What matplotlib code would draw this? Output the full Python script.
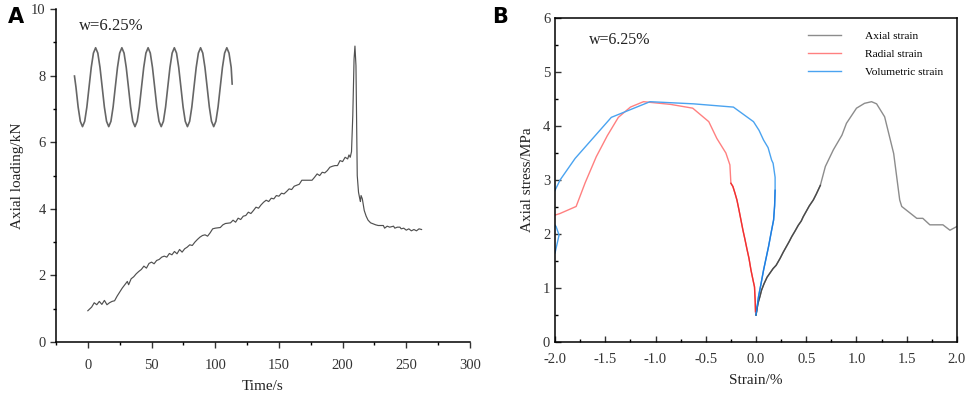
import matplotlib.pyplot as plt
from matplotlib.ticker import MultipleLocator, FormatStrFormatter

plt.rcParams["font.family"] = ["Liberation Serif", "DejaVu Serif"]
plt.rcParams["axes.unicode_minus"] = False

# ---- 面板A：轴向荷载-时间 ----
t_load = [0, 3, 5, 7, 9, 11, 13, 15, 17, 19, 21, 23, 25, 27, 29, 31, 32, 34, 36, 38,
          40, 42, 44, 46, 48, 50, 52, 54, 56, 58, 60, 62, 64, 66, 68, 70, 72, 74, 76, 78,
          80, 82, 84, 86, 88, 90, 92, 94, 96, 98, 100, 104, 106, 108, 112, 114, 116, 118, 120, 122,
          124, 126, 128, 130, 132, 134, 136, 138, 140, 142, 144, 146, 148, 150, 152, 154, 156, 158, 160, 162,
          164, 166, 168, 172, 176, 178, 180, 182, 184, 186, 188, 190, 192, 194, 196, 198, 200, 202, 204, 205,
          206, 207, 208, 209, 209.7, 210.5, 211, 211.5, 212.5, 213.5, 214, 214.5, 215.5, 217, 218.5, 220, 222, 224, 226, 228,
          232, 233, 235, 237, 240, 241, 243, 245, 246, 248, 250, 252, 254, 256, 258, 260, 262]
load = [0.94, 1.05, 1.18, 1.12, 1.22, 1.13, 1.25, 1.12, 1.18, 1.22, 1.24, 1.38, 1.50, 1.62, 1.72, 1.82, 1.72, 1.90, 1.96, 2.05,
        2.12, 2.18, 2.28, 2.22, 2.36, 2.40, 2.35, 2.45, 2.48, 2.55, 2.58, 2.55, 2.66, 2.62, 2.72, 2.65, 2.78, 2.70, 2.80, 2.85,
        2.92, 2.90, 3.00, 3.08, 3.15, 3.20, 3.22, 3.18, 3.28, 3.40, 3.42, 3.44, 3.52, 3.56, 3.58, 3.66, 3.60, 3.72, 3.68, 3.78,
        3.80, 3.90, 3.86, 3.95, 4.05, 4.02, 4.12, 4.20, 4.26, 4.22, 4.32, 4.30, 4.40, 4.38, 4.47, 4.45, 4.52, 4.60, 4.58, 4.68,
        4.71, 4.74, 4.86, 4.86, 4.86, 4.95, 5.05, 5.00, 5.10, 5.08, 5.15, 5.25, 5.28, 5.30, 5.30, 5.45, 5.42, 5.55, 5.50, 5.62,
        5.55, 5.72, 6.80, 8.50, 8.89, 8.30, 6.50, 5.00, 4.50, 4.30, 4.22, 4.40, 4.30, 3.95, 3.78, 3.66, 3.58, 3.55, 3.52, 3.50,
        3.50, 3.42, 3.48, 3.45, 3.48, 3.42, 3.45, 3.45, 3.40, 3.42, 3.36, 3.40, 3.34, 3.38, 3.34, 3.40, 3.38]

# 左上角循环荷载示意（正弦波形，读图取点）
t_wave = [-10.5, -9.35, -7.63, -5.92, -4.20, -2.48, -0.77, 0.95, 2.67, 4.38, 6.10, 7.82, 9.53,
          11.25, 12.97, 14.68, 16.40, 18.12, 19.83, 21.55, 23.27, 24.98, 26.70, 28.42, 30.13,
          31.85, 33.57, 35.28, 37.00, 38.72, 40.43, 42.15, 43.87, 45.58, 47.30, 49.02, 50.73,
          52.45, 54.17, 55.88, 57.60, 59.32, 61.03, 62.75, 64.47, 66.18, 67.90, 69.62, 71.33,
          73.05, 74.77, 76.48, 78.20, 79.92, 81.63, 83.35, 85.07, 86.78, 88.50, 90.22, 91.93,
          93.65, 95.37, 97.08, 98.80, 100.52, 102.23, 103.95, 105.67, 107.38, 109.10, 110.82, 112.53, 113.3]
y_wave = [7.99, 7.66, 7.06, 6.63, 6.47, 6.63, 7.06, 7.66, 8.25, 8.68, 8.84, 8.68, 8.25,
          7.66, 7.06, 6.63, 6.47, 6.63, 7.06, 7.66, 8.25, 8.68, 8.84, 8.68, 8.25,
          7.66, 7.06, 6.63, 6.47, 6.63, 7.06, 7.66, 8.25, 8.68, 8.84, 8.68, 8.25,
          7.66, 7.06, 6.63, 6.47, 6.63, 7.06, 7.66, 8.25, 8.68, 8.84, 8.68, 8.25,
          7.66, 7.06, 6.63, 6.47, 6.63, 7.06, 7.66, 8.25, 8.68, 8.84, 8.68, 8.25,
          7.66, 7.06, 6.63, 6.47, 6.63, 7.06, 7.66, 8.25, 8.68, 8.84, 8.68, 8.25, 7.75]

# ---- 面板B：应力-应变 ----
axial_x = [0.0, 0.02, 0.04, 0.055, 0.08, 0.11, 0.14, 0.17, 0.20, 0.24, 0.27, 0.30, 0.33, 0.355, 0.39,
           0.42, 0.45, 0.47, 0.50, 0.53, 0.57, 0.60, 0.64,
           0.69, 0.77, 0.855, 0.90, 1.00, 1.08, 1.15, 1.20, 1.28, 1.37, 1.43, 1.45, 1.60, 1.66,
           1.73, 1.86, 1.93, 2.00, 2.05]
axial_y = [0.50, 0.72, 0.85, 0.96, 1.08, 1.20, 1.28, 1.36, 1.42, 1.55, 1.66, 1.76, 1.86, 1.95, 2.06,
           2.16, 2.24, 2.32, 2.42, 2.52, 2.63, 2.74, 2.90,
           3.25, 3.56, 3.83, 4.05, 4.33, 4.42, 4.45, 4.41, 4.17, 3.49, 2.63, 2.51, 2.29, 2.29,
           2.17, 2.17, 2.07, 2.14, 2.18]
axial_dense = 23

radial_x = [-0.005, -0.008, -0.015, -0.03, -0.05, -0.07, -0.09, -0.11, -0.13, -0.15, -0.17, -0.19,
            -0.21, -0.23, -0.25,
            -0.26, -0.30, -0.39, -0.47, -0.63, -0.85, -1.12, -1.25, -1.37, -1.48, -1.59, -1.70,
            -1.79, -1.95, -2.00, -2.20]
radial_y = [0.56, 0.75, 1.02, 1.15, 1.33, 1.55, 1.72, 1.90, 2.07, 2.26, 2.45, 2.63, 2.76, 2.88, 2.94,
            3.28, 3.50, 3.77, 4.08, 4.33, 4.40, 4.45, 4.35, 4.16, 3.82, 3.43, 2.95,
            2.51, 2.38, 2.35, 2.20]
radial_dense = 15

vol_x = [0.0, 0.025, 0.05, 0.075, 0.10, 0.125, 0.15, 0.175, 0.185, 0.19,
         0.19, 0.17, 0.155, 0.12, 0.075, 0.03, -0.025, -0.225, -0.62, -1.055, -1.44, -1.80,
         -1.95, -2.00, -2.10, -2.04, -1.99, -1.96, -2.00, -2.10]
vol_y = [0.50, 0.84, 1.08, 1.33, 1.55, 1.77, 2.02, 2.26, 2.52, 2.81,
         3.05, 3.31, 3.37, 3.60, 3.74, 3.92, 4.08, 4.35, 4.41, 4.45, 4.16, 3.40,
         3.00, 2.81, 2.45, 2.25, 2.14, 1.98, 1.65, 1.40]
vol_dense = 10

fig = plt.figure(figsize=(9.69, 3.97), dpi=100)

# 图A
ax1 = fig.add_axes([0.0578, 0.1385, 0.4272, 0.8385])
ax1.plot(t_load, load, c="#505050", lw=0.85)
ax1.plot(t_wave, y_wave, c="#666666", lw=1.2)
ax1.set_xlim(-25, 300)
ax1.set_ylim(0, 10)
ax1.spines["top"].set_visible(False)
ax1.spines["right"].set_visible(False)
ax1.xaxis.set_major_locator(MultipleLocator(50))
ax1.xaxis.set_minor_locator(MultipleLocator(25))
ax1.yaxis.set_major_locator(MultipleLocator(2))
ax1.yaxis.set_minor_locator(MultipleLocator(1))
ax1.tick_params(which="major", direction="out", length=4, width=1, labelsize=10.5, colors="#333333")
ax1.tick_params(axis="x", which="major", pad=8)
ax1.tick_params(which="minor", direction="out", length=2.5, width=1)
ax1.set_xlabel("Time/s", fontsize=11, color="#222222", labelpad=6)
ax1.set_ylabel("Axial loading/kN", fontsize=11, color="#222222", labelpad=5)
ax1.text(-7, 9.5, "w=6.25%", fontsize=12, color="#222222", va="center")
for s in ax1.spines.values():
    s.set_linewidth(1.1)

# 图B
ax2 = fig.add_axes([0.5728, 0.1385, 0.4148, 0.8162])
ax2.plot(axial_x, axial_y, c="#8c8c8c", lw=1.0, label="Axial strain")
ax2.plot(radial_x, radial_y, c="#ff8080", lw=1.0, label="Radial strain")
ax2.plot(vol_x, vol_y, c="#4aa3f0", lw=1.0, label="Volumetric strain")
# 数据点密集段颜色更深
ax2.plot(axial_x[:axial_dense], axial_y[:axial_dense], c="#4a4a4a", lw=1.0)
ax2.plot(radial_x[:radial_dense], radial_y[:radial_dense], c="#f03030", lw=1.0)
ax2.plot(vol_x[:vol_dense], vol_y[:vol_dense], c="#1f7de0", lw=1.0)
ax2.set_xlim(-2, 2)
ax2.set_ylim(0, 6)
ax2.xaxis.set_major_locator(MultipleLocator(0.5))
ax2.xaxis.set_minor_locator(MultipleLocator(0.25))
ax2.yaxis.set_major_locator(MultipleLocator(1))
ax2.yaxis.set_minor_locator(MultipleLocator(0.5))
ax2.xaxis.set_major_formatter(FormatStrFormatter("%.1f"))
ax2.tick_params(which="major", direction="in", length=4, width=1, labelsize=10.5, colors="#333333")
ax2.tick_params(axis="x", which="major", pad=8)
ax2.tick_params(which="minor", direction="in", length=2.5, width=1)
ax2.set_xlabel("Strain/%", fontsize=11, color="#222222", labelpad=6)
ax2.set_ylabel("Axial stress/MPa", fontsize=11, color="#222222", labelpad=6)
ax2.text(-1.66, 5.6, "w=6.25%", fontsize=11.5, color="#222222", va="center")
for s in ax2.spines.values():
    s.set_linewidth(1.1)
ax2.legend(loc="upper right", bbox_to_anchor=(0.99, 0.99), frameon=False, fontsize=8.2,
           handlelength=2.9, handletextpad=2.1, labelspacing=0.7)

fig.text(0.008, 0.957, "A", fontsize=15, fontweight="bold", family="DejaVu Sans", va="center")
fig.text(0.508, 0.957, "B", fontsize=15, fontweight="bold", family="DejaVu Sans", va="center")

plt.savefig("out.png", dpi=100)
